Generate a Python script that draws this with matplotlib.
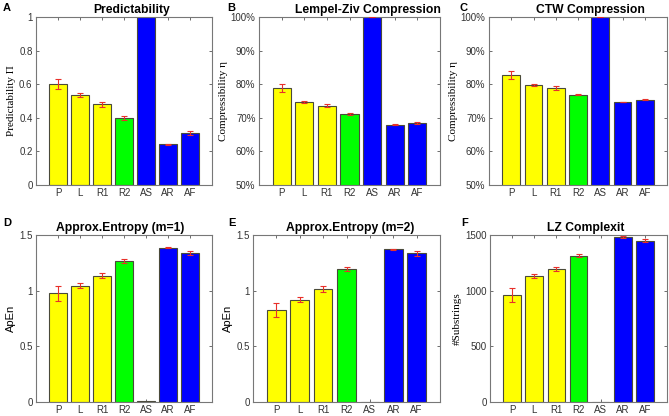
import matplotlib
matplotlib.use("Agg")
import matplotlib.pyplot as plt
from matplotlib.ticker import FuncFormatter

categories = ["P", "L", "R1", "R2", "AS", "AR", "AF"]
bar_colors = ["#FFFF00", "#FFFF00", "#FFFF00", "#00FF00", "#0000FF", "#0000FF", "#0000FF"]

pred_vals = [0.60, 0.535, 0.48, 0.40, 1.0, 0.243, 0.31]
pred_err = [0.03, 0.01, 0.015, 0.012, 0.0, 0.004, 0.01]

lz_vals = [79.0, 74.7, 73.6, 71.2, 100.0, 68.0, 68.5]
lz_err = [1.2, 0.3, 0.5, 0.25, 0.1, 0.1, 0.25]

ctw_vals = [82.7, 79.8, 78.9, 76.9, 100.0, 74.7, 75.4]
ctw_err = [1.2, 0.3, 0.5, 0.15, 0.1, 0.05, 0.25]

apen1_vals = [0.975, 1.045, 1.135, 1.265, 0.005, 1.385, 1.34]
apen1_err = [0.07, 0.02, 0.02, 0.015, 0.0, 0.003, 0.02]

apen2_vals = [0.825, 0.92, 1.015, 1.195, 0.0, 1.37, 1.335]
apen2_err = [0.065, 0.02, 0.025, 0.02, 0.0, 0.005, 0.02]

lzc_vals = [960, 1130, 1195, 1315, 0, 1485, 1450]
lzc_err = [60, 20, 20, 10, 0, 10, 15]

W, H = 669, 416
fig = plt.figure(figsize=(W / 100, H / 100), dpi=100)

def px_box(l, t, r, b):
    return [l / W, 1 - b / H, (r - l) / W, (b - t) / H]

panels = [
    ("A", "Predictability", pred_vals, pred_err, (0, 1), [0, 0.2, 0.4, 0.6, 0.8, 1],
     "Predictability Π", "serif", None, px_box(36, 17, 212, 185), 0.545, (3, 11)),
    ("B", "Lempel-Ziv Compression", lz_vals, lz_err, (50, 100), [50, 60, 70, 80, 90, 100],
     "Compressibility η", "serif", "pct", px_box(259, 17, 440, 185), 0.60, (227, 11)),
    ("C", "CTW Compression", ctw_vals, ctw_err, (50, 100), [50, 60, 70, 80, 90, 100],
     "Compressibility η", "serif", "pct", px_box(489, 17, 667, 185), 0.57, (460, 11)),
    ("D", "Approx.Entropy (m=1)", apen1_vals, apen1_err, (0, 1.5), [0, 0.5, 1, 1.5],
     "ApEn", "sans", None, px_box(36, 235, 212, 402), 0.48, (3, 226)),
    ("E", "Approx.Entropy (m=2)", apen2_vals, apen2_err, (0, 1.5), [0, 0.5, 1, 1.5],
     "ApEn", "sans", None, px_box(253, 235, 440, 402), 0.52, (228, 226)),
    ("F", "LZ Complexit", lzc_vals, lzc_err, (0, 1500), [0, 500, 1000, 1500],
     "#Substrings", "serif", None, px_box(490, 235, 667, 402), 0.54, (461, 226)),
]

for letter, title, vals, errs, ylim, yticks, ylabel, lfam, fmt, pos, tx, lpos in panels:
    ax = fig.add_axes(pos)
    x = list(range(1, len(categories) + 1))
    ax.bar(x, vals, width=0.8, color=bar_colors, edgecolor="#4a4a3a", linewidth=0.8, zorder=2)
    ex = [xi for xi, e in zip(x, errs) if e > 0]
    ev = [v for v, e in zip(vals, errs) if e > 0]
    ee = [e for e in errs if e > 0]
    ax.errorbar(ex, ev, yerr=ee, fmt="none", ecolor="#e8302a", elinewidth=0.8,
                capsize=2, capthick=0.8, zorder=3)
    ax.set_xlim(0, 8)
    ax.set_ylim(*ylim)
    ax.set_xticks(x)
    ax.set_xticklabels(categories, fontsize=7, color="#333333", family="Liberation Sans")
    ax.set_yticks(yticks)
    if fmt == "pct":
        ax.yaxis.set_major_formatter(FuncFormatter(lambda v, p: f"{int(v)}%"))
    else:
        ax.yaxis.set_major_formatter(FuncFormatter(lambda v, p: f"{v:g}"))
    for lab in ax.get_yticklabels():
        lab.set_fontsize(7)
        lab.set_color("#333333")
        lab.set_family("Liberation Sans")
    ax.tick_params(direction="in", length=2.5, width=0.6, top=True, right=True,
                   colors="#555555", labelcolor="#333333", pad=2.5)
    for s in ax.spines.values():
        s.set_color("#777777")
        s.set_linewidth(0.8)
    ax.set_title(title, fontsize=8.7, fontweight="bold", family="Liberation Sans",
                 pad=3, x=tx)
    if lfam == "serif":
        ax.set_ylabel(ylabel, fontsize=8, family="Liberation Serif", labelpad=2)
    else:
        ax.set_ylabel(ylabel, fontsize=8, family="Liberation Sans", labelpad=2)
    fig.text(lpos[0] / W, 1 - lpos[1] / H, letter, fontsize=8,
             fontweight="bold", family="Liberation Sans")

fig.savefig("out.png", dpi=100)
